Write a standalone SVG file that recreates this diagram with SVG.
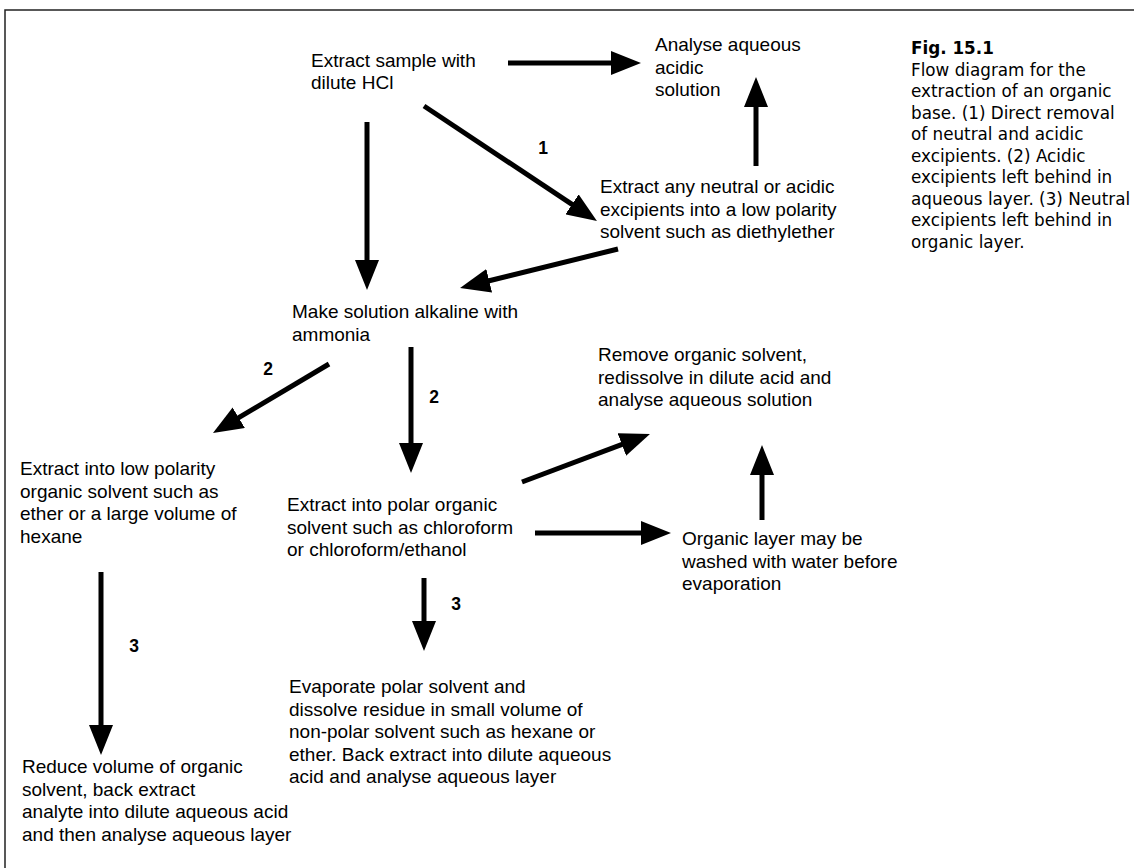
<svg xmlns="http://www.w3.org/2000/svg" width="1134" height="868" viewBox="0 0 1134 868">
<style>
.t{font-family:"Liberation Sans",Arial,sans-serif;font-size:19px;fill:#000}
.n{font-family:"Liberation Sans",Arial,sans-serif;font-size:17.5px;font-weight:bold;fill:#000;text-anchor:middle}
.c{font-family:"DejaVu Sans",sans-serif;font-size:16.8px;fill:#000}
.a{stroke:#000;stroke-width:5;fill:none;marker-end:url(#h)}
.frame{stroke:#222;stroke-width:1.5;fill:none}
</style>
<defs>
<marker id="h" markerUnits="userSpaceOnUse" viewBox="0 -12 30 24" refX="1" refY="0" markerWidth="30" markerHeight="24" orient="auto">
<path d="M0,-12 L30,0 L0,12 z" fill="#000"/>
</marker>
</defs>
<rect width="1134" height="868" fill="#fff"/>
<path class="frame" d="M5,868 V10 H1134"/>

<g id="caption">
<text class="c" x="911"><tspan x="911" y="54" font-weight="bold">Fig. 15.1</tspan><tspan x="911" y="75.5">Flow diagram for the</tspan><tspan x="911" y="97">extraction of an organic</tspan><tspan x="911" y="118.5">base. (1) Direct removal</tspan><tspan x="911" y="140">of neutral and acidic</tspan><tspan x="911" y="161.5">excipients. (2) Acidic</tspan><tspan x="911" y="183">excipients left behind in</tspan><tspan x="911" y="204.5">aqueous layer. (3) Neutral</tspan><tspan x="911" y="226">excipients left behind in</tspan><tspan x="911" y="247.5">organic layer.</tspan></text>
</g>

<g id="n-extract-hcl"><text class="t"><tspan x="311" y="67">Extract sample with</tspan><tspan x="311" y="89">dilute HCl</tspan></text></g>
<g id="n-analyse-acidic"><text class="t"><tspan x="655" y="51">Analyse aqueous</tspan><tspan x="655" y="73.5">acidic</tspan><tspan x="655" y="96">solution</tspan></text></g>
<g id="n-extract-neutral"><text class="t"><tspan x="600" y="193">Extract any neutral or acidic</tspan><tspan x="600" y="215.5">excipients into a low polarity</tspan><tspan x="600" y="238">solvent such as diethylether</tspan></text></g>
<g id="n-alkaline"><text class="t"><tspan x="292" y="318">Make solution alkaline with</tspan><tspan x="292" y="340.5">ammonia</tspan></text></g>
<g id="n-remove"><text class="t"><tspan x="598" y="361">Remove organic solvent,</tspan><tspan x="598" y="383.5">redissolve in dilute acid and</tspan><tspan x="598" y="406">analyse aqueous solution</tspan></text></g>
<g id="n-low-polarity"><text class="t"><tspan x="20" y="475">Extract into low polarity</tspan><tspan x="20" y="497.5">organic solvent such as</tspan><tspan x="20" y="520">ether or a large volume of</tspan><tspan x="20" y="542.5">hexane</tspan></text></g>
<g id="n-polar"><text class="t"><tspan x="287" y="511">Extract into polar organic</tspan><tspan x="287" y="533.5">solvent such as chloroform</tspan><tspan x="287" y="556">or chloroform/ethanol</tspan></text></g>
<g id="n-washed"><text class="t"><tspan x="682" y="545">Organic layer may be</tspan><tspan x="682" y="567.5">washed with water before</tspan><tspan x="682" y="590">evaporation</tspan></text></g>
<g id="n-evaporate"><text class="t"><tspan x="289" y="693">Evaporate polar solvent and</tspan><tspan x="289" y="715.5">dissolve residue in small volume of</tspan><tspan x="289" y="738">non-polar solvent such as hexane or</tspan><tspan x="289" y="760.5">ether. Back extract into dilute aqueous</tspan><tspan x="289" y="783">acid and analyse aqueous layer</tspan></text></g>
<g id="n-reduce"><text class="t"><tspan x="22" y="773">Reduce volume of organic</tspan><tspan x="22" y="795.5">solvent, back extract</tspan><tspan x="22" y="818">analyte into dilute aqueous acid</tspan><tspan x="22" y="840.5">and then analyse aqueous layer</tspan></text></g>

<g id="connectors">
<line class="a" x1="508" y1="63" x2="612" y2="63"/>
<line class="a" x1="756" y1="166" x2="756" y2="106"/>
<line class="a" x1="424" y1="106" x2="572.8" y2="204.9"/>
<line class="a" x1="618" y1="249" x2="488.2" y2="281"/>
<line class="a" x1="367" y1="122" x2="367" y2="261"/>
<line class="a" x1="329" y1="364" x2="237.9" y2="418.2"/>
<line class="a" x1="411" y1="347" x2="411" y2="444"/>
<line class="a" x1="522" y1="482" x2="622.8" y2="444.2"/>
<line class="a" x1="535" y1="533" x2="642" y2="533"/>
<line class="a" x1="762" y1="520" x2="762" y2="474"/>
<line class="a" x1="101" y1="572" x2="101" y2="726"/>
<line class="a" x1="424" y1="578" x2="424" y2="622"/>
<text class="n" x="543" y="154">1</text>
<text class="n" x="268" y="375">2</text>
<text class="n" x="434" y="403">2</text>
<text class="n" x="456" y="610">3</text>
<text class="n" x="134" y="652">3</text>
</g>
</svg>
